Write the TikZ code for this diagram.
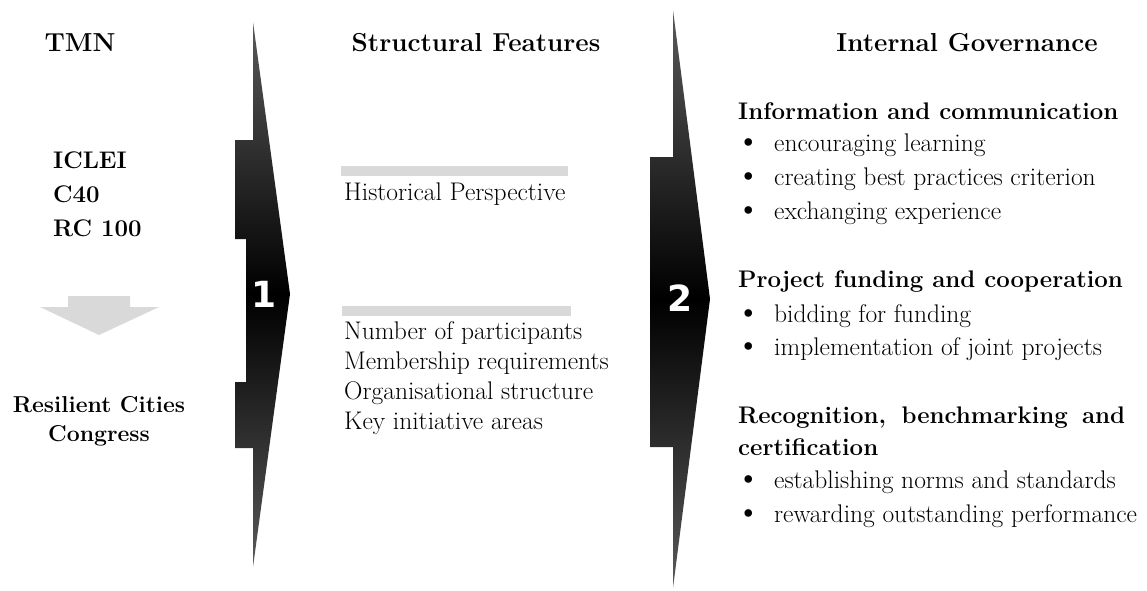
\documentclass[tikz,border=0pt]{standalone}
\usepackage{fontspec}
\newfontfamily\numfont{DejaVu Sans}
\newcommand\blt{\makebox[38pt][l]{\fontsize{34}{34}\selectfont\textbullet}}
\begin{document}
\begin{tikzpicture}[x=1pt,y=-1pt,
  title/.style={anchor=base,inner sep=0pt,font=\fontsize{26}{30}\selectfont\bfseries},
  head/.style={anchor=base west,inner sep=0pt,font=\fontsize{24}{28}\selectfont\bfseries},
  item/.style={anchor=base west,inner sep=0pt,font=\fontsize{25.5}{30}\selectfont},
  num/.style={text=white,inner sep=0pt,font=\numfont\bfseries\fontsize{36}{40}\selectfont},
  chevron/.style={top color=black!65,bottom color=black!65,middle color=black},
  bar/.style={fill=black!15}]
\useasboundingbox (0,0) rectangle (1147,590);
% the two big step arrows
\shade[chevron] (253,22)--(290,294)--(253,567)--(253,448)--(235,448)--(235,382)
--(246,382)--(246,239)--(235,239)--(235,140)--(253,140)--cycle;
\shade[chevron] (673,10)--(710,299)--(673,588)--(673,447)--(650,447)--(650,157)
--(673,157)--cycle;
\node[num] (one) at (264,294) {1};
\node[num] (two) at (680,298) {2};
% column titles
\node[title] (tmn) at (80,51) {TMN};
\node[title] (feat) at (476,51) {Structural Features};
\node[title] (gov) at (967,51) {Internal Governance};
% networks
\node[head] (iclei) at (53,168) {ICLEI};
\node[head] (cforty) at (53,202) {C40};
\node[head] (rc) at (53,236) {RC 100};
\fill[bar] (68,296)--(130,296)--(130,307)--(159,307)--(99,335)--(40,307)--(68,307)--cycle;
\node[head,anchor=base,font=\fontsize{23}{28}\selectfont\bfseries] (congress1) at (99,412) {Resilient Cities};
\node[head,anchor=base,font=\fontsize{23}{28}\selectfont\bfseries] (congress2) at (99,441) {Congress};
% structural features
\fill[bar] (341,166) rectangle (568,176);
\fill[bar] (342,306) rectangle (571,316);
\node[item] (hist) at (344,200) {Historical Perspective};
\foreach \txt [count=\i] in {Number of participants, Membership requirements,
  Organisational structure, Key initiative areas}
  \node[item] (feat\i) at (344,309+30*\i) {\txt};
% governance
\node[head] (info) at (738,119) {Information and communication};
\foreach \txt [count=\i] in {encouraging learning, creating best practices criterion,
  exchanging experience}
  \node[item] (info\i) at (736,117+34*\i) {\blt\txt};
\node[head] (fund) at (738,287) {Project funding and cooperation};
\foreach \txt [count=\i] in {bidding for funding, implementation of joint projects}
  \node[item] (fund\i) at (736,289+33*\i) {\blt\txt};
\node[head] (recog) at (738,423) {\makebox[387pt][s]{Recognition, benchmarking and}};
\node[head] (cert) at (738,455) {certification};
\foreach \txt [count=\i] in {establishing norms and standards,
  rewarding outstanding performance}
  \node[item] (recog\i) at (736,454+34*\i) {\blt\txt};
\end{tikzpicture}
\end{document}
